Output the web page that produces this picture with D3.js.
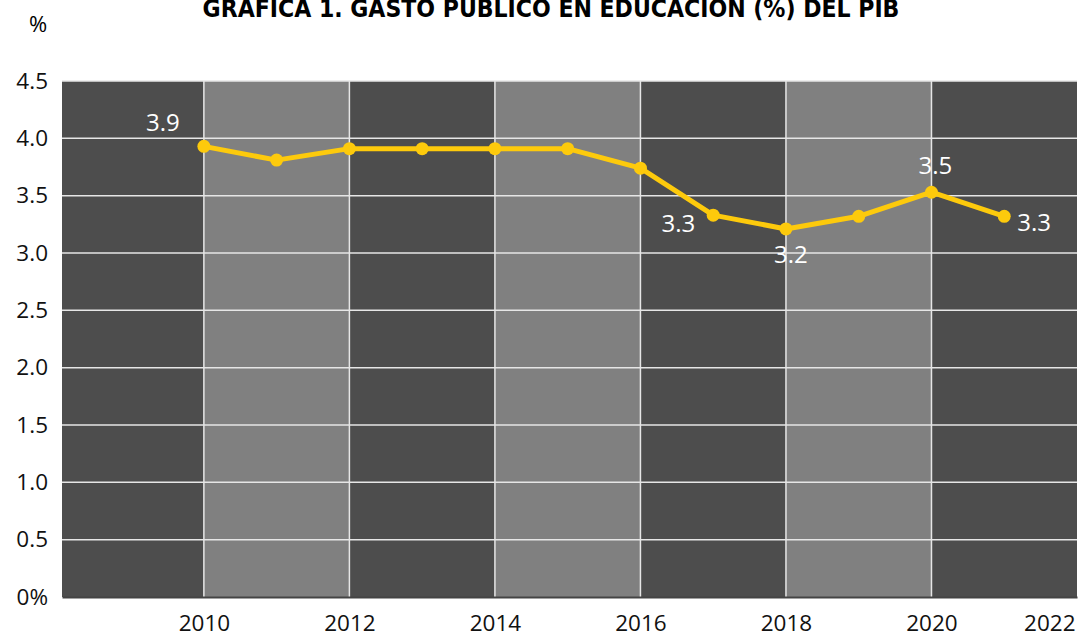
<!DOCTYPE html>
<html lang="es">
<head>
    <meta charset="UTF-8">
    <title>Gasto público en educación</title>
    <script src="https://d3js.org/d3.v7.min.js"></script>
    <style>
        body { margin: 0; background: #fff; }
        .title {
            font-family: "DejaVu Sans Condensed", "DejaVu Sans", sans-serif;
            font-stretch: condensed;
            font-size: 24.5px;
            font-weight: bold;
            text-anchor: middle;
        }
        .tick text {
            font-family: "Open Sans", "Noto Sans", sans-serif;
            font-size: 22.5px;
            fill: #111;
        }
        .value-label {
            font-family: "Open Sans", "Noto Sans", sans-serif;
            font-size: 24px;
            fill: #fff;
        }
    </style>
</head>
<body>
    <svg width="1081" height="634"></svg>
    <script>
        const width = 1081, height = 634;
        const margin = {top: 81, right: 4, bottom: 37, left: 62};

        // Datos
        const years = [2010, 2011, 2012, 2013, 2014, 2015, 2016, 2017, 2018, 2019, 2020, 2021];
        const values = [3.93, 3.81, 3.91, 3.91, 3.91, 3.91, 3.74, 3.33, 3.21, 3.32, 3.53, 3.32];
        const xTicks = [2010, 2012, 2014, 2016, 2018, 2020, 2022];
        const yTicks = [0, 0.5, 1.0, 1.5, 2.0, 2.5, 3.0, 3.5, 4.0, 4.5];
        const bandStarts = [2008, 2010, 2012, 2014, 2016, 2018, 2020];
        // etiquetas de valor: año, texto, posición
        const labels = [
            {year: 2010, text: "3.9", pos: "above-left"},
            {year: 2017, text: "3.3", pos: "left"},
            {year: 2018, text: "3.2", pos: "below"},
            {year: 2020, text: "3.5", pos: "above"},
            {year: 2021, text: "3.3", pos: "right"}
        ];

        const innerWidth = width - margin.left - margin.right;
        const innerHeight = height - margin.top - margin.bottom;

        const svg = d3.select("svg");
        const chart = svg.append("g")
            .attr("transform", `translate(${margin.left}, ${margin.top})`);

        const x = d3.scaleLinear().domain([2008.05, 2022]).range([0, innerWidth]);
        const y = d3.scaleLinear().domain([0, 4.5]).range([innerHeight, 0]);

        // Título
        svg.append("text")
            .attr("class", "title")
            .attr("x", 551)
            .attr("y", 17)
            .text("GRÁFICA 1. GASTO PÚBLICO EN EDUCACIÓN (%) DEL PIB");

        svg.append("text")
            .attr("x", 38)
            .attr("y", 32)
            .attr("text-anchor", "middle")
            .style("font-family", "Open Sans, sans-serif")
            .style("font-size", "22px")
            .text("%");

        // Bandas alternas
        chart.append("g")
            .selectAll("rect")
            .data(bandStarts)
            .join("rect")
            .attr("x", d => x(Math.max(d, 2008.05)))
            .attr("y", 0)
            .attr("width", d => Math.min(x(d + 2), innerWidth) - x(Math.max(d, 2008.05)))
            .attr("height", innerHeight)
            .attr("fill", (d, i) => i % 2 === 0 ? "#4d4d4d" : "#808080");

        // Líneas de cuadrícula
        chart.append("g")
            .selectAll("line")
            .data(yTicks.slice(1))
            .join("line")
            .attr("x1", 0)
            .attr("x2", innerWidth)
            .attr("y1", d => y(d))
            .attr("y2", d => y(d))
            .attr("stroke", "#e6e6e6")
            .attr("stroke-width", 1.5);

        chart.append("g")
            .selectAll("line")
            .data(xTicks.slice(0, -1))
            .join("line")
            .attr("x1", d => x(d))
            .attr("x2", d => x(d))
            .attr("y1", 0)
            .attr("y2", innerHeight)
            .attr("stroke", "#e6e6e6")
            .attr("stroke-width", 1.5);

        // Ejes
        const xAxis = chart.append("g")
            .attr("transform", `translate(0, ${innerHeight})`)
            .call(d3.axisBottom(x).tickValues(xTicks).tickFormat(d3.format("d")).tickSize(0).tickPadding(18));
        xAxis.select(".domain").attr("stroke", "#444").attr("stroke-width", 2);
        xAxis.selectAll(".tick text")
            .filter(d => d === 2022)
            .attr("text-anchor", "end")
            .attr("dx", -2);

        const yAxis = chart.append("g")
            .call(d3.axisLeft(y).tickValues(yTicks)
                .tickFormat(d => d === 0 ? "0%" : d3.format(".1f")(d))
                .tickSize(0).tickPadding(14));
        yAxis.select(".domain").remove();

        // Línea de datos
        const data = years.map((yr, i) => ({year: yr, value: values[i]}));
        chart.append("path")
            .datum(data)
            .attr("fill", "none")
            .attr("stroke", "#fdca0c")
            .attr("stroke-width", 5)
            .attr("stroke-linejoin", "round")
            .attr("d", d3.line().x(d => x(d.year)).y(d => y(d.value)));

        chart.append("g")
            .selectAll("circle")
            .data(data)
            .join("circle")
            .attr("cx", d => x(d.year))
            .attr("cy", d => y(d.value))
            .attr("r", 6.5)
            .attr("fill", "#fdca0c");

        // Etiquetas de valor
        const offsets = {
            "above-left": {dx: -41, dy: -15, anchor: "middle"},
            "left": {dx: -18, dy: 17, anchor: "end"},
            "below": {dx: 5, dy: 34, anchor: "middle"},
            "above": {dx: 4, dy: -18, anchor: "middle"},
            "right": {dx: 13, dy: 15, anchor: "start"}
        };
        chart.append("g")
            .selectAll("text")
            .data(labels)
            .join("text")
            .attr("class", "value-label")
            .attr("x", d => x(d.year) + offsets[d.pos].dx)
            .attr("y", d => y(values[years.indexOf(d.year)]) + offsets[d.pos].dy)
            .attr("text-anchor", d => offsets[d.pos].anchor)
            .text(d => d.text);
    </script>
</body>
</html>
